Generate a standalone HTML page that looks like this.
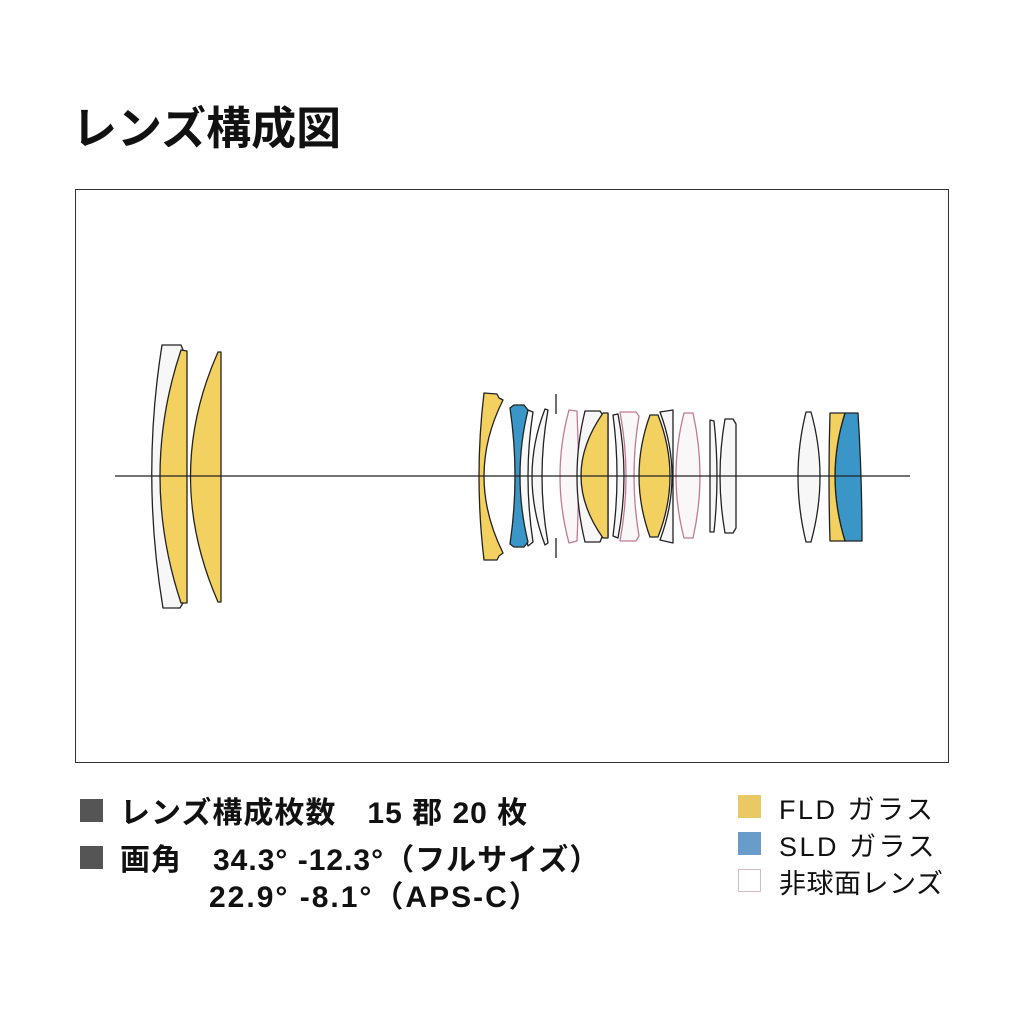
<!DOCTYPE html>
<html><head><meta charset="utf-8"><style>
body{margin:0;width:1024px;height:1024px;background:#fff;position:relative;overflow:hidden;font-family:"Liberation Sans","Noto Sans CJK JP",sans-serif}
.t{position:absolute;white-space:nowrap;color:#111}
.b{font-weight:bold}
.sq{position:absolute;width:23px;height:23px}
</style></head><body>
<div class="t b" style="left:72px;top:92px;font-size:45px;">レンズ構成図</div>
<svg width="1024" height="1024" style="position:absolute;left:0;top:0">
<rect x="75.5" y="189.5" width="873" height="573" fill="none" stroke="#333" stroke-width="1"/>
<g stroke="#222" stroke-width="1.3" stroke-linejoin="round">
<path d="M162,345 L181,345 L183,350 Q139,476 183,603 L180,608 L163,608 Q141,476 162,345 Z" fill="#f7f7f7"/>
<path d="M181,350 L187,351 L187,603 L181,603 Q139,476 181,350 Z" fill="#f2d160"/>
<path d="M218,352 L221,352 L221,602 L218,602 Q163,476 218,352 Z" fill="#f2d160"/>
<path d="M484,393 L497,394 L499,398 L503,400 Q465,476 503,553 L499,556 L497,560 L484,560 Q474,476 484,393 Z" fill="#f2d160"/>
<path d="M528,410 L533,412 Q523,476 533,542 L528,546 Q510,476 528,410 Z" fill="#f7f7f7"/>
<path d="M510,408 L514,405 L524,405 L528,410 Q512,476 528,542 L524,547 L514,547 L510,544 Q520,476 510,408 Z" fill="#3a96c6"/>
<path d="M545,409 L548,410 Q536,476 548,543 L545,545 Q519,476 545,409 Z" fill="#f7f7f7"/>
<line x1="556" y1="394" x2="556" y2="414"/><line x1="556" y1="538" x2="556" y2="558"/>
<path d="M569,410 L577,411 Q580,476 577,541 L569,543 Q551,476 569,410 Z" fill="#f9f7f8" stroke="#c07a95"/>
<path d="M585,411 L600,411 L602,414 L608,414 L608,537 L602,537 L600,542 L585,542 Q569,476 585,411 Z" fill="#f7f7f7"/>
<path d="M603,413 L608,413 L608,538 L603,538 Q559,476 603,413 Z" fill="#f2d160"/>
<path d="M613,415 L618,414 Q630,476 618,538 L613,536 Q621,476 613,415 Z" fill="#f7f7f7"/>
<path d="M620,412 L636,412 L639,416 Q629,476 639,536 L636,541 L620,541 Q632,476 620,412 Z" fill="#f9f7f8" stroke="#c07a95"/>
<path d="M660,412 L673,410 L673,543 L660,540 Q684,476 660,412 Z" fill="#f7f7f7"/>
<path d="M650,415 L658,415 Q682,476 658,537 L650,537 Q628,476 650,415 Z" fill="#f2d160"/>
<path d="M684,413 L693,413 Q707,476 693,538 L684,538 Q668,476 684,413 Z" fill="#f9f7f8" stroke="#c07a95"/>
<path d="M710,420 L714,421 Q720,476 714,532 L710,532 Z" fill="#f7f7f7"/>
<path d="M725,419 L733,419 L736,424 L736,528 L733,533 L725,533 Q715,476 725,419 Z" fill="#f7f7f7"/>
<path d="M806,412 L811,412 Q829,476 811,542 L806,542 Q790,476 806,412 Z" fill="#f7f7f7"/>
<path d="M845,413 L858,413 Q862,476 862,541 L845,541 Q825,476 845,413 Z" fill="#3a96c6"/>
<path d="M830,413 L845,413 Q825,476 845,541 L830,541 Q828,476 830,413 Z" fill="#f2d160"/>
</g>
<line x1="115" y1="476" x2="910" y2="476" stroke="#222" stroke-width="1.3"/>
</svg>
<div class="sq" style="left:80px;top:799px;background:#555"></div>
<div class="t b" style="left:120px;top:788px;font-size:30px;letter-spacing:1px">レンズ構成枚数　15 郡 20 枚</div>
<div class="sq" style="left:80px;top:846px;background:#555"></div>
<div class="t b" style="left:120px;top:835px;font-size:30px;letter-spacing:1px">画角　34.3° -12.3°（フルサイズ）</div>
<div class="t b" style="left:209px;top:872px;font-size:30px;letter-spacing:2px">22.9° -8.1°（APS-C）</div>
<div class="sq" style="left:738px;top:795px;background:#e9c964"></div>
<div class="t" style="left:779px;top:788px;font-size:27px;letter-spacing:2.5px">FLD ガラス</div>
<div class="sq" style="left:738px;top:832px;background:#6a9cc9"></div>
<div class="t" style="left:779px;top:825px;font-size:27px;letter-spacing:2.5px">SLD ガラス</div>
<div class="sq" style="left:738px;top:869px;width:21px;height:21px;border:1px solid #d7b9c6"></div>
<div class="t" style="left:779px;top:862px;font-size:27px;letter-spacing:0.5px">非球面レンズ</div>
</body></html>
